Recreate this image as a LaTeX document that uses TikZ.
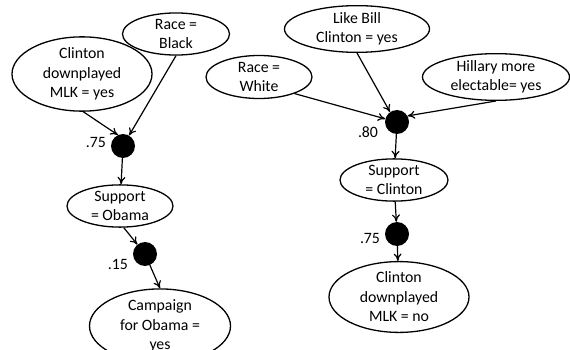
\documentclass[tikz,border=0pt]{standalone}
\usepackage{fontspec}
\setmainfont{Carlito}
\usetikzlibrary{shapes.geometric,arrows.meta}

\begin{document}
\begin{tikzpicture}[
    x=1pt, y=-1pt,
    state/.style={draw, ellipse, line width=1.3pt, inner sep=0pt, align=center, font=\fontsize{15.8}{19.5}\selectfont},
    dot/.style={circle, fill=black, minimum size=24pt, inner sep=0pt},
    prob/.style={font=\fontsize{15.8}{19.5}\selectfont},
    arrow/.style={-{To[length=2.6mm,width=2.8mm]}, line width=1.2pt}
]
\clip (0,0) rectangle (570,350);
% left network
\node[state, minimum width=107pt, minimum height=38pt] (black) at (176,34) {Race =\\Black};
\node[state, minimum width=140pt, minimum height=52pt] (cdyes) at (82,74) {Clinton\\downplayed\\MLK = yes};
\node[dot] (dotl) at (123,146) {};
\node[prob] (pl) at (96,142) {.75};
\node[state, minimum width=106pt, minimum height=42pt] (obama) at (120,206) {Support\\= Obama};
\node[dot] (dotl2) at (145,254) {};
\node[prob] (pl2) at (118,264) {.15};
\node[state, minimum width=141pt, minimum height=64pt] (campaign) at (160,326) {Campaign\\for Obama =\\yes};

% right network
\node[state, minimum width=106pt, minimum height=43pt] (white) at (259,77) {Race =\\White};
\node[state, minimum width=145pt, minimum height=42pt] (bill) at (357,29) {Like Bill\\Clinton = yes};
\node[state, minimum width=147pt, minimum height=45pt] (hillary) at (496,77) {Hillary more\\electable= yes};
\node[dot] (dotr) at (397,122) {};
\node[prob] (pr) at (368,132) {.80};
\node[state, minimum width=108pt, minimum height=38pt] (clinton) at (394,180) {Support\\= Clinton};
\node[dot] (dotr2) at (397,234) {};
\node[prob] (pr2) at (370,238) {.75};
\node[state, minimum width=140pt, minimum height=64pt] (cdno) at (399,297) {Clinton\\downplayed\\MLK = no};

\draw[arrow] (cdyes.-88) -- (dotl.115);
\draw[arrow] (black.south) -- (dotl.60);
\draw[arrow] (dotl) -- (obama);
\draw[arrow] (obama.-80) -- (dotl2);
\draw[arrow] (dotl2) -- (campaign.north);
\draw[arrow] (white.-25) -- (dotr.165);
\draw[arrow] (bill.south) -- (dotr.125);
\draw[arrow] (hillary.south) -- (dotr.30);
\draw[arrow] (dotr) -- (clinton);
\draw[arrow] (clinton) -- (dotr2);
\draw[arrow] (dotr2) -- (cdno);
\end{tikzpicture}
\end{document}
